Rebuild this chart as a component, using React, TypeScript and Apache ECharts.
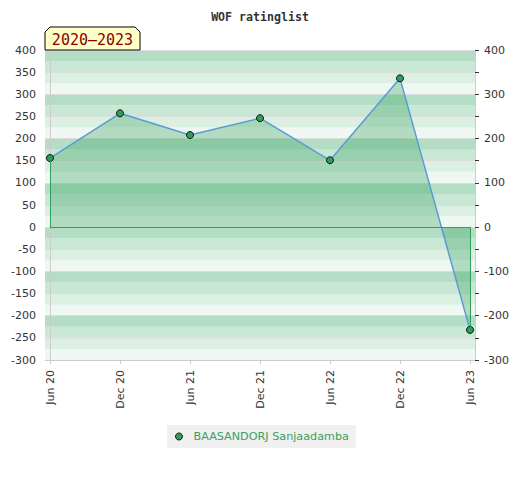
import React, { useEffect, useRef } from "react";
import * as echarts from "echarts";

const categories = ["Jun 20", "Dec 20", "Jun 21", "Dec 21", "Jun 22", "Dec 22", "Jun 23"];
const ratings = [156, 257, 208, 246, 151, 336, -232];
const seriesName = "BAASANDORJ Sanjaadamba";
const yMin = -300;
const yMax = 400;
const periodLabel = "2020\u20132023";

export default function App() {
  const ref = useRef<HTMLDivElement>(null);
  useEffect(() => {
    document.body.style.margin = "0";
    const chart = echarts.init(ref.current!, null, { renderer: "svg" });
    const pad = 5 / 70;
    const data = ratings.map((v, i) => [i, v]);
    const last = categories.length - 1;
    const font = "DejaVu Sans";
    chart.setOption({
      animation: false,
      title: {
        text: "WOF ratinglist",
        left: "center",
        top: 6,
        textStyle: { fontFamily: "DejaVu Sans Mono", fontWeight: "bold", fontSize: 11.6, color: "#333" },
      },
      grid: { left: 45, right: 45, top: 50, bottom: 120, containLabel: false },
      xAxis: {
        type: "value",
        min: -pad,
        max: last + pad,
        axisLine: { onZero: false, lineStyle: { color: "#ccc" } },
        axisTick: { show: true, customValues: categories.map((_, i) => i), length: 4, lineStyle: { color: "#ccc" } },
        splitLine: { show: false },
        axisLabel: {
          customValues: categories.map((_, i) => i),
          formatter: (v: number) => categories[Math.round(v)] ?? "",
          rotate: 90,
          margin: 10,
          fontFamily: font,
          fontSize: 11,
          color: "#333",
        },
      },
      yAxis: [
        {
          type: "value",
          min: yMin,
          max: yMax,
          interval: 25,
          position: "left",
          axisLine: { show: true, lineStyle: { color: "#ccc" } },
          axisTick: { show: false },
          splitLine: { show: false },
          splitArea: { show: true, areaStyle: { color: ["#eff7f2", "#dcefe3", "#c9e7d5", "#b3dec5"] } },
          axisLabel: {
            formatter: (v: number) => (v % 50 === 0 ? String(v) : ""),
            margin: 9,
            fontFamily: font,
            fontSize: 11,
            color: "#333",
          },
        },
        {
          type: "value",
          min: yMin,
          max: yMax,
          interval: 50,
          position: "right",
          axisLine: { show: true, lineStyle: { color: "#ccc" } },
          axisTick: { show: true, length: 4, lineStyle: { color: "#333" } },
          splitLine: { show: true, lineStyle: { color: "#dddddd", width: 1 } },
          axisLabel: {
            formatter: (v: number) => (v % 100 === 0 ? String(v) : ""),
            margin: 9,
            fontFamily: font,
            fontSize: 11,
            color: "#333",
          },
        },
      ],
      legend: {
        top: 425,
        left: 167,
        backgroundColor: "#f0f0f0",
        padding: [6, 7, 6, 8],
        icon: "circle",
        itemWidth: 7,
        itemHeight: 7,
        itemStyle: { color: "#2e9e5a", borderColor: "#111", borderWidth: 1 },
        textStyle: { color: "#3aa060", fontFamily: font, fontSize: 11.2, padding: [0, 0, 0, 6] },
        data: [seriesName],
      },
      graphic: [
        {
          type: "polygon",
          shape: { points: [[45, 50], [45, 32], [50, 27], [135, 27], [140, 32], [140, 50]] },
          style: { fill: "#ffffc8", stroke: "#000", lineWidth: 1 },
          z: 10,
        },
        {
          type: "text",
          x: 92.5,
          y: 39.5,
          style: {
            text: periodLabel,
            fill: "#8b0000",
            font: "15px DejaVu Sans Mono",
            align: "center",
            verticalAlign: "middle",
          },
          z: 11,
        },
      ],
      series: [
        {
          name: seriesName,
          type: "line",
          data,
          yAxisIndex: 0,
          symbol: "circle",
          symbolSize: 7,
          lineStyle: { color: "#5b9bd5", width: 1.5 },
          itemStyle: { color: "#2e9e5a", borderColor: "#111", borderWidth: 1 },
          areaStyle: { color: "rgba(46,160,90,0.45)", origin: 0 },
          markLine: {
            silent: true,
            symbol: "none",
            label: { show: false },
            lineStyle: { color: "#2e9e5a", type: "solid", width: 1 },
            data: [
              [{ coord: [0, 0] }, { coord: [0, ratings[0]] }],
              [{ coord: [0, 0] }, { coord: [last, 0] }],
              [{ coord: [last, 0] }, { coord: [last, ratings[last]] }],
            ],
          },
        },
      ],
    });
    return () => chart.dispose();
  }, []);
  return <div ref={ref} style={{ width: 520, height: 480 }} />;
}
